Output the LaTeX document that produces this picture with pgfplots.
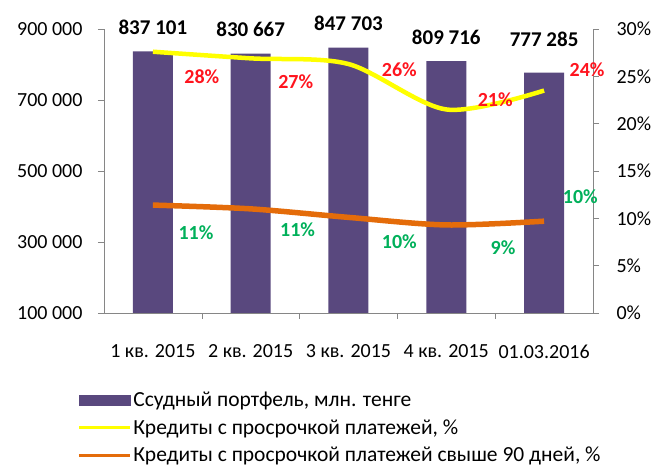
\documentclass[border=0pt]{standalone}
\usepackage{pgfplots}
\pgfplotsset{compat=1.18}
\usepackage{fontspec}
\setmainfont{Carlito}
\definecolor{barc}{RGB}{89,72,126}
\definecolor{yel}{RGB}{255,255,0}
\definecolor{ora}{RGB}{228,108,10}
\definecolor{redl}{RGB}{255,20,30}
\definecolor{grnl}{RGB}{0,176,90}
\definecolor{axc}{RGB}{134,134,134}
\begin{document}
\begin{tikzpicture}[x=1pt,y=1pt]
\path[use as bounding box] (0,0) rectangle (657,466);
\begin{axis}[
  at={(104pt,153pt)}, anchor=south west,
  scale only axis, width=489pt, height=284pt,
  xmin=-0.5, xmax=4.5, ymin=100000, ymax=900000,
  axis x line*=bottom, axis y line*=left,
  axis line style={-, draw=axc, line width=0.8pt},
  ytick={100000,300000,500000,700000,900000},
  yticklabels={100 000,300 000,500 000,700 000,900 000},
  yticklabel style={xshift=-12pt},
  scaled y ticks=false,
  tick align=outside,
  tick style={draw=axc, line width=0.6pt},
  major tick length=6pt,
  xtick={0,1,2,3,4},
  xticklabels={1 кв. 2015,2 кв. 2015,3 кв. 2015,4 кв. 2015,01.03.2016},
  x tick style={draw=none},
  xticklabel style={yshift=-22pt},
  tick label style={font=\fontsize{20}{24}\selectfont, text=black},
  ybar, bar width=40pt,
]
\addplot[fill=barc, draw=none] coordinates {(0,837101) (1,830667) (2,847703) (3,809716) (4,777285)};
\end{axis}
\begin{axis}[
  at={(104pt,153pt)}, anchor=south west,
  scale only axis, width=489pt, height=284pt,
  xmin=-0.5, xmax=4.5, ymin=0, ymax=30,
  axis x line*=bottom, axis y line*=right,
  axis line style={-, draw=axc, line width=0.8pt},
  xtick={0.5,1.5,2.5,3.5}, xticklabels={,,,},
  ytick={0,5,10,15,20,25,30},
  yticklabels={0\%,5\%,10\%,15\%,20\%,25\%,30\%},
  yticklabel style={xshift=14pt},
  tick align=outside,
  tick style={draw=axc, line width=0.6pt},
  major tick length=6pt,
  tick label style={font=\fontsize{20}{24}\selectfont, text=black},
  clip=false,
  legend style={at={(-0.055,-0.27)}, anchor=north west, draw=none, fill=none,
    inner sep=0pt, font=\fontsize{21.5}{25}\selectfont, row sep=7.5pt,
    cells={anchor=west}},
]
\addlegendimage{legend image code/.code={\fill[barc] (0pt,-5pt) rectangle (51pt,5pt);}}
\addlegendentry{Ссудный портфель, млн. тенге}
\addplot[yel, line width=4.5pt, smooth, legend image code/.code={\draw[yel, line width=3pt] (0pt,0pt)--(51pt,0pt);}]
  coordinates {(0,27.6) (1,26.9) (2,26.3) (3,21.5) (4,23.5)};
\addlegendentry{Кредиты с просрочкой платежей, \%}
\addplot[ora, line width=5.5pt, smooth, legend image code/.code={\draw[ora, line width=3pt] (0pt,0pt)--(51pt,0pt);}]
  coordinates {(0,11.4) (1,11.0) (2,10.1) (3,9.3) (4,9.7)};
\addlegendentry{Кредиты с просрочкой платежей свыше 90 дней, \%}
\begin{scope}[every node/.style={font=\bfseries\fontsize{21}{24}\selectfont, text=black}]
\node at (axis cs:0,30.16) {837 101};
\node at (axis cs:1,29.98) {830 667};
\node at (axis cs:2,30.63) {847 703};
\node at (axis cs:3,29.10) {809 716};
\node at (axis cs:4,28.94) {777 285};
\end{scope}
\begin{scope}[every node/.style={font=\bfseries\fontsize{20}{24}\selectfont, text=redl}]
\node at (axis cs:0.50,24.98) {28\%};
\node at (axis cs:1.46,24.43) {27\%};
\node at (axis cs:2.52,25.67) {26\%};
\node at (axis cs:3.50,22.50) {21\%};
\node at (axis cs:4.44,25.67) {24\%};
\end{scope}
\begin{scope}[every node/.style={font=\bfseries\fontsize{20}{24}\selectfont, text=grnl}]
\node at (axis cs:0.44,8.45) {11\%};
\node at (axis cs:1.48,8.77) {11\%};
\node at (axis cs:2.52,7.53) {10\%};
\node at (axis cs:3.58,6.87) {9\%};
\node at (axis cs:4.37,12.25) {10\%};
\end{scope}
\end{axis}
\end{tikzpicture}
\end{document}
